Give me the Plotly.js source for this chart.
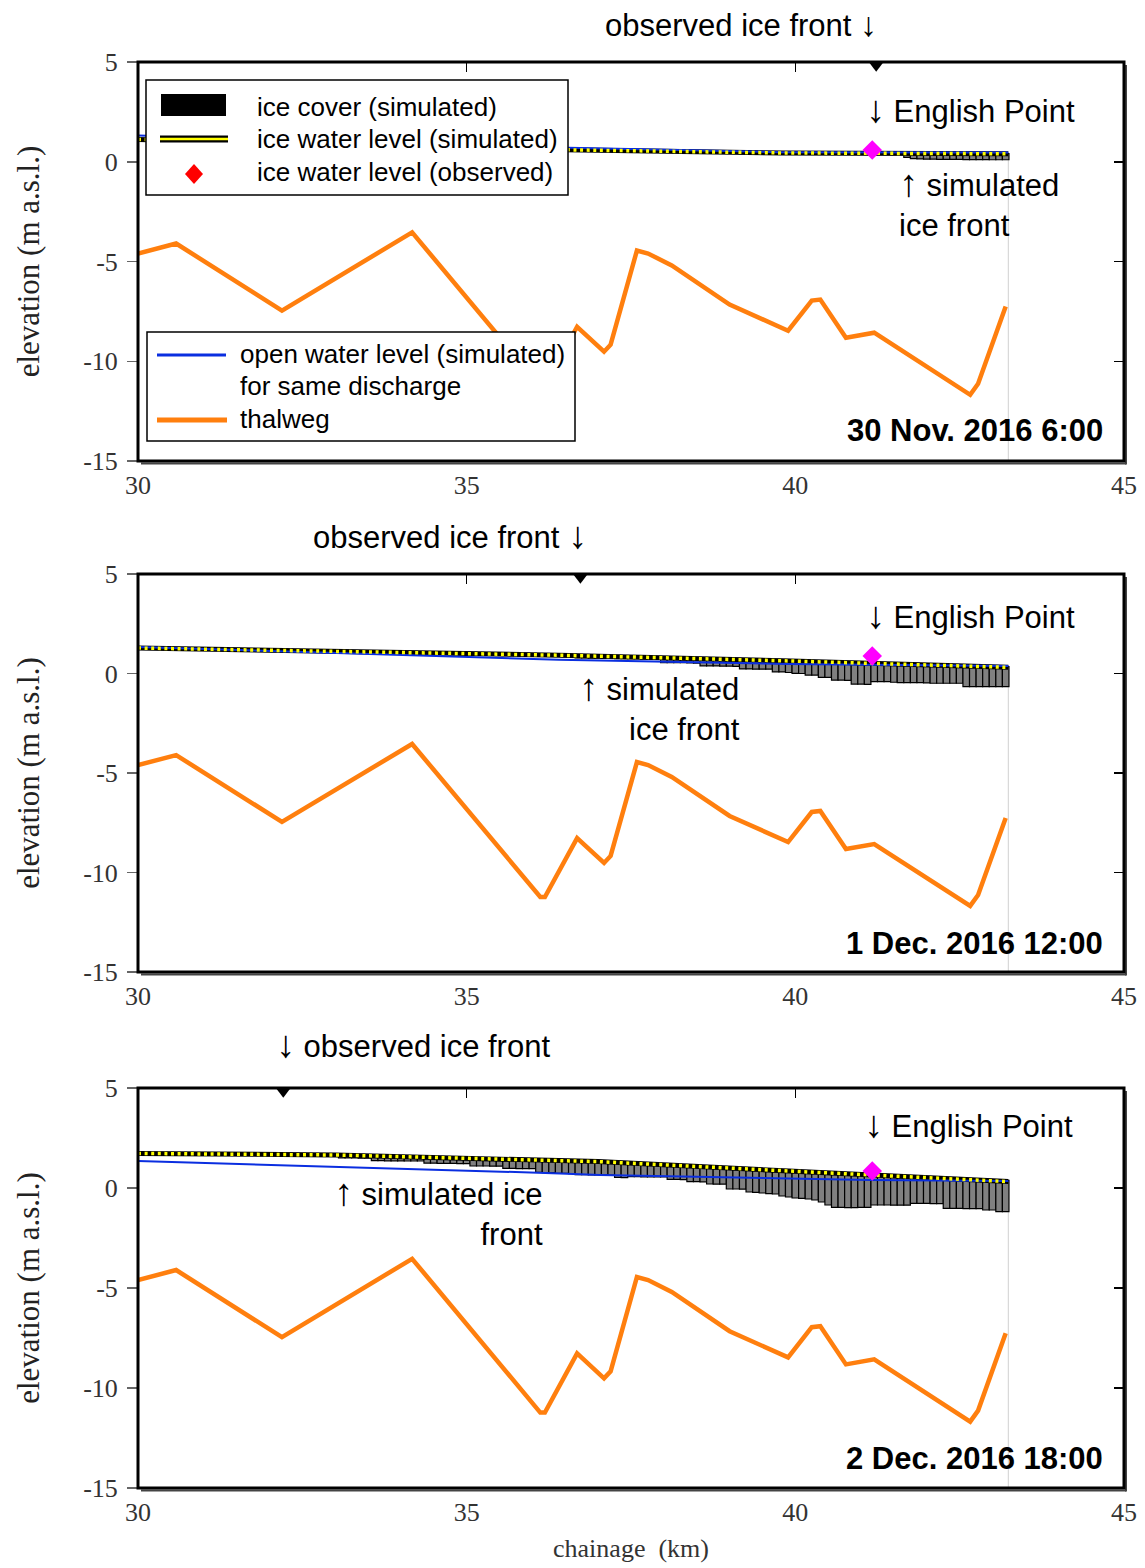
<!DOCTYPE html>
<html>
<head>
<meta charset="utf-8">
<script src="https://cdn.plot.ly/plotly-3.0.1.min.js"></script>
<style>
  html, body { margin: 0; padding: 0; background: #fff; }
  #chart { width: 1145px; height: 1568px; }
</style>
</head>
<body>
<div id="chart"></div>
<script>
// ---------------- DATA ----------------
const xTicks = [30, 35, 40, 45];
const yTicks = [5, 0, -5, -10, -15];
const xRange = [30, 45];
const yRange = [-15, 5];

const panelDates = ['30 Nov. 2016 6:00', '1 Dec. 2016 12:00', '2 Dec. 2016 18:00'];

// thalweg (same in every panel)
const thalwegKm   = [30, 30.58, 32.19, 34.17, 36.12, 36.19, 36.68, 37.09, 37.19, 37.59, 37.76, 38.12, 39.0, 39.89, 40.25, 40.38, 40.77, 41.2, 42.66, 42.78, 43.2];
const thalwegElev = [-4.60, -4.10, -7.46, -3.54, -11.23, -11.23, -8.27, -9.52, -9.17, -4.45, -4.60, -5.20, -7.16, -8.47, -6.96, -6.91, -8.82, -8.57, -11.68, -11.13, -7.26];

// open water level (simulated) for same discharge
const openKm1   = [30, 36.54, 39.77, 43.24];
const openElev1 = [1.32, 0.70, 0.48, 0.46];
const openKm2   = [30, 36.4, 39.9, 43.24];
const openElev2 = [1.33, 0.69, 0.48, 0.38];
const openKm3   = [30, 33.0, 36.42, 37.03, 39.92, 41.14, 43.24];
const openElev3 = [1.35, 1.07, 0.73, 0.65, 0.45, 0.40, 0.35];

// ice water level (simulated)
const iceLevelKm1   = [30, 33, 36.5, 39.8, 41.2, 43.24];
const iceLevelElev1 = [1.12, 0.88, 0.60, 0.44, 0.43, 0.40];
const iceLevelKm2   = [30, 33, 36.4, 39.8, 41.2, 42.2, 43.24];
const iceLevelElev2 = [1.28, 1.10, 0.92, 0.64, 0.51, 0.43, 0.31];
const iceLevelKm3   = [30, 33.0, 36.4, 37.0, 39.9, 41.1, 43.24];
const iceLevelElev3 = [1.73, 1.65, 1.37, 1.32, 0.85, 0.65, 0.32];

// ice cover (simulated): first section chainage, section spacing 0.1 km
const iceStartKm = [41.7, 36.7, 33.1];
const iceStepKm = 0.1;
const iceTop1    = [0.45, 0.45, 0.45, 0.44, 0.44, 0.44, 0.44, 0.43, 0.43, 0.43, 0.43, 0.42, 0.42, 0.42, 0.42, 0.41];
const iceBottom1 = [0.22, 0.16, 0.14, 0.13, 0.13, 0.12, 0.12, 0.12, 0.12, 0.11, 0.11, 0.11, 0.11, 0.10, 0.10, 0.10];
const iceTop2 = [0.90, 0.89, 0.88, 0.88, 0.87, 0.86, 0.85, 0.85, 0.84, 0.83, 0.82, 0.82, 0.81,
                 0.80, 0.79, 0.78, 0.78, 0.77, 0.76, 0.75, 0.74, 0.74, 0.73, 0.72, 0.71,
                 0.70, 0.70, 0.69, 0.68, 0.67, 0.66, 0.66, 0.65, 0.64, 0.63, 0.62, 0.62,
                 0.61, 0.60, 0.59, 0.58, 0.57, 0.56, 0.55, 0.54, 0.53, 0.52, 0.52, 0.51,
                 0.50, 0.49, 0.48, 0.47, 0.46, 0.46, 0.45, 0.44, 0.43, 0.42, 0.41, 0.40,
                 0.39, 0.38, 0.37, 0.36, 0.35];
const iceBottom2 = [0.78, 0.78, 0.77, 0.77, 0.76, 0.76, 0.75, 0.75, 0.74, 0.74, 0.73, 0.73, 0.72,
                    0.54, 0.54, 0.54, 0.54, 0.53, 0.52,
                    0.38, 0.38, 0.38, 0.37, 0.37, 0.36,
                    0.23, 0.23, 0.22, 0.22, 0.22,
                    0.08, 0.08, 0.05, 0.01, 0.00,
                    -0.08, -0.08,
                    -0.19, -0.19,
                    -0.33, -0.33, -0.35,
                    -0.53, -0.53, -0.55,
                    -0.41, -0.41, -0.41,
                    -0.44, -0.46, -0.46, -0.46, -0.46, -0.47,
                    -0.49, -0.49, -0.49, -0.49, -0.49,
                    -0.66, -0.66, -0.66, -0.66, -0.66, -0.66, -0.66];
const iceTop3 = [1.69, 1.68, 1.67, 1.66, 1.66, 1.65, 1.64, 1.63, 1.62, 1.61,
                 1.60, 1.60, 1.59, 1.58, 1.57, 1.56, 1.55, 1.54, 1.54, 1.53,
                 1.52, 1.51, 1.50, 1.49, 1.48, 1.48, 1.47, 1.46, 1.45, 1.44,
                 1.43, 1.42, 1.42, 1.41, 1.40, 1.39, 1.38, 1.38, 1.37, 1.36,
                 1.34, 1.33, 1.31, 1.29, 1.28, 1.26, 1.25, 1.23, 1.21, 1.20,
                 1.18, 1.17, 1.15, 1.13, 1.12, 1.10, 1.09, 1.07, 1.05, 1.04,
                 1.02, 1.01, 0.99, 0.97, 0.96, 0.94, 0.93, 0.91, 0.89, 0.88,
                 0.86, 0.84, 0.83, 0.81, 0.79, 0.78, 0.76, 0.74, 0.73, 0.71,
                 0.69, 0.68, 0.66, 0.65, 0.63, 0.62, 0.60, 0.59, 0.57, 0.56,
                 0.54, 0.53, 0.51, 0.50, 0.48, 0.47, 0.45, 0.44, 0.42, 0.41,
                 0.39, 0.38];
const iceBottom3 = [1.50, 1.50, 1.50, 1.49, 1.49,
                    1.37, 1.37, 1.36, 1.36, 1.36, 1.35, 1.35, 1.35,
                    1.24, 1.24, 1.23, 1.23, 1.23, 1.22, 1.22,
                    1.10, 1.10, 1.10, 1.09, 1.09,
                    0.98, 0.98, 0.97, 0.97, 0.97,
                    0.78, 0.77, 0.77,
                    0.73, 0.73, 0.72,
                    0.67, 0.67, 0.66, 0.66, 0.66, 0.65,
                    0.53, 0.52,
                    0.57, 0.57, 0.56, 0.56, 0.56, 0.55,
                    0.43, 0.43, 0.42,
                    0.32, 0.32, 0.31,
                    0.20, 0.19, 0.19,
                    -0.05, -0.05, -0.06,
                    -0.20, -0.22, -0.25, -0.28, -0.30,
                    -0.40, -0.45, -0.50,
                    -0.52, -0.55, -0.60,
                    -0.70, -0.85,
                    -0.97, -0.97, -0.98, -0.98, -0.97, -0.97,
                    -0.85, -0.85, -0.85, -0.86, -0.86, -0.86,
                    -0.77, -0.77, -0.77, -0.78, -0.78,
                    -1.02, -1.02, -1.02, -1.03, -1.03, -1.03,
                    -1.10, -1.10, -1.18, -1.18];

// observed ice water level at English Point, observed ice front
const englishPointKm = 41.17;
const observedLevel = [0.59, 0.88, 0.85];
const observedFrontKm = [41.23, 36.73, 32.21];
const reachEndKm = 43.24;

const openKm = [openKm1, openKm2, openKm3];
const openElev = [openElev1, openElev2, openElev3];
const iceLevelKm = [iceLevelKm1, iceLevelKm2, iceLevelKm3];
const iceLevelElev = [iceLevelElev1, iceLevelElev2, iceLevelElev3];
const iceTop = [iceTop1, iceTop2, iceTop3];
const iceBottom = [iceBottom1, iceBottom2, iceBottom3];

// ---------------- STYLE / LAYOUT ----------------
const SANS = 'Liberation Sans, Arial, sans-serif';
const SERIF = 'Liberation Serif, Times New Roman, serif';
const ORANGE = '#ff7f0e';
const BLUE = '#0a2ee0';
const arrow = (ch, size) => '<span style="font-size:' + (size || 38) + 'px">' + ch + '</span>';
const DOWN = arrow('↓'), UP = arrow('↑');

const W = 1145, H = 1568;
const ML = 138, MR = 21, MT = 62, MB = 80;
const PW = W - ML - MR, PH = H - MT - MB;
const X = px => (px - ML) / PW;
const Y = py => (H - MB - py) / PH;

const panelPix = [[62, 461], [574, 972], [1088, 1488]]; // top, bottom in px
const domains = panelPix.map(p => [Y(p[1]), Y(p[0])]);

const traces = [];
const layout = {
  width: W, height: H,
  margin: {l: ML, r: MR, t: MT, b: MB},
  paper_bgcolor: '#fff', plot_bgcolor: '#fff',
  showlegend: false,
  shapes: [], annotations: []
};

for (let i = 0; i < 3; i++) {
  const s = i === 0 ? '' : String(i + 1);
  const xa = 'x' + s, ya = 'y' + s;
  const ov = String(i + 4);

  layout['xaxis' + s] = {
    domain: [0, 1], anchor: ya, range: xRange,
    tickmode: 'array', tickvals: xTicks, ticktext: xTicks.map(String),
    ticks: '', showgrid: false, zeroline: false, showline: false,
    tickfont: {family: SERIF, size: 26, color: '#333'},
    ticklabelstandoff: 6,
    title: i === 2 ? {text: 'chainage  (km)', font: {family: SERIF, size: 26, color: '#333'}, standoff: 12} : {text: ''}
  };
  layout['yaxis' + s] = {
    domain: domains[i], anchor: xa, range: yRange,
    tickmode: 'array', tickvals: yTicks, ticktext: yTicks.map(String),
    ticks: 'outside', ticklen: 10, tickwidth: 1.5, tickcolor: '#666',
    showgrid: false, zeroline: false, showline: false,
    tickfont: {family: SERIF, size: 26, color: '#333'},
    ticklabelstandoff: 4,
    title: {text: 'elevation (m a.s.l.)', font: {family: SERIF, size: 31, color: '#222'}, standoff: 34}
  };
  // top ticks and right ticks (inside)
  layout['xaxis' + ov] = {
    overlaying: xa, anchor: ya, side: 'top', range: xRange,
    tickmode: 'array', tickvals: [35, 40], ticks: 'inside', ticklen: 10, tickwidth: 1.5, tickcolor: '#000',
    showticklabels: false, showgrid: false, zeroline: false, showline: false
  };
  layout['yaxis' + ov] = {
    overlaying: ya, anchor: xa, side: 'right', range: yRange,
    tickmode: 'array', tickvals: [0, -5, -10], ticks: 'inside', ticklen: 10, tickwidth: 1.5, tickcolor: '#000',
    showticklabels: false, showgrid: false, zeroline: false, showline: false
  };
  traces.push({type: 'scatter', x: [null], y: [null], xaxis: 'x' + ov, yaxis: 'y' + ov, hoverinfo: 'skip', showlegend: false});

  // thalweg
  traces.push({type: 'scatter', mode: 'lines', x: thalwegKm, y: thalwegElev, xaxis: xa, yaxis: ya,
    line: {color: ORANGE, width: 4.5}, name: 'thalweg'});
  // ice cover
  traces.push({type: 'bar', x0: iceStartKm[i], dx: iceStepKm, xaxis: xa, yaxis: ya,
    base: iceBottom[i], y: iceTop[i].map((t, k) => t - iceBottom[i][k]),
    width: iceStepKm, marker: {color: '#808080', line: {color: '#000', width: 1.2}},
    name: 'ice cover (simulated)'});
  // ice water level: black line
  traces.push({type: 'scatter', mode: 'lines', x: iceLevelKm[i], y: iceLevelElev[i], xaxis: xa, yaxis: ya,
    line: {color: '#000', width: 5}, name: 'ice water level (simulated)'});
  // open water level
  traces.push({type: 'scatter', mode: 'lines', x: openKm[i], y: openElev[i], xaxis: xa, yaxis: ya,
    line: {color: BLUE, width: 2}, name: 'open water level (simulated)'});
  // ice water level: yellow dots
  traces.push({type: 'scatter', mode: 'lines', x: iceLevelKm[i], y: iceLevelElev[i], xaxis: xa, yaxis: ya,
    line: {color: '#ffff00', width: 3.5, dash: '3px,3.6px'}, showlegend: false});
  // observed level at English Point
  traces.push({type: 'scatter', mode: 'markers', x: [englishPointKm], y: [observedLevel[i]], xaxis: xa, yaxis: ya,
    marker: {symbol: 'diamond', size: 15, color: '#ff00ff'}, name: 'ice water level (observed)'});
  // observed ice front marker on top axis
  traces.push({type: 'scatter', mode: 'markers', x: [observedFrontKm[i]], y: [4.8], xaxis: xa, yaxis: ya,
    marker: {symbol: 'triangle-down', size: 11.5, color: '#000'}, cliponaxis: false, showlegend: false});

  // frame with shadow
  const [pt, pb] = panelPix[i];
  layout.shapes.push({type: 'line', xref: 'paper', yref: 'paper', x0: X(141), x1: X(1126), y0: Y(pb + 2.5), y1: Y(pb + 2.5), line: {color: '#444', width: 2}});
  layout.shapes.push({type: 'line', xref: 'paper', yref: 'paper', x0: X(1126), x1: X(1126), y0: Y(pt + 3), y1: Y(pb + 3.5), line: {color: '#444', width: 2}});
  layout.shapes.push({type: 'rect', xref: 'paper', yref: 'paper', x0: 0, x1: 1, y0: domains[i][0], y1: domains[i][1], line: {color: '#000', width: 3}});
  // light grey end-of-reach line
  layout.shapes.push({type: 'line', xref: xa, yref: ya, x0: reachEndKm, x1: reachEndKm, y0: iceLevelElev[i][iceLevelElev[i].length - 1] - 0.3, y1: -15.25, line: {color: '#d0d0d0', width: 1}, layer: 'below'});

  // date label
  const dateY = [430, 943, 1458][i];
  layout.annotations.push({xref: 'paper', yref: 'paper', x: X(1105), y: Y(dateY), xanchor: 'right', yanchor: 'middle',
    text: '<b>' + panelDates[i] + '</b>', showarrow: false, font: {family: SANS, size: 31, color: '#000'}});
}

// text annotations
const A = (px, py, text, xanchor, align) => layout.annotations.push({xref: 'paper', yref: 'paper', x: X(px), y: Y(py),
  xanchor: xanchor || 'left', yanchor: 'middle', align: align || 'left', text: text, showarrow: false,
  font: {family: SANS, size: 31, color: '#000'}});
A(603, 24, 'observed ice front ' + arrow('↓', 34));
A(864, 109, DOWN + ' English Point');
A(897, 203, UP + ' simulated<br>ice front');
A(311, 535, 'observed ice front ' + DOWN);
A(864, 615, DOWN + ' English Point');
A(742, 707, UP + ' simulated<br>ice front', 'right', 'right');
A(274, 1044, DOWN + ' observed ice front');
A(862, 1124, DOWN + ' English Point');
A(545, 1211, UP + ' simulated ice<br>front', 'right', 'right');

// legends (panel 1)
const L = (px, py, text) => layout.annotations.push({xref: 'paper', yref: 'paper', x: X(px), y: Y(py),
  xanchor: 'left', yanchor: 'middle', text: text, showarrow: false, font: {family: SANS, size: 26, color: '#000'}});
layout.shapes.push({type: 'rect', xref: 'paper', yref: 'paper', x0: X(146), x1: X(568), y0: Y(195), y1: Y(80), fillcolor: '#fff', line: {color: '#000', width: 1.5}});
layout.shapes.push({type: 'rect', xref: 'paper', yref: 'paper', x0: X(161), x1: X(226), y0: Y(116), y1: Y(94), fillcolor: '#000', line: {width: 0}});
layout.shapes.push({type: 'line', xref: 'paper', yref: 'paper', x0: X(160), x1: X(228), y0: Y(139), y1: Y(139), line: {color: '#000', width: 7}});
layout.shapes.push({type: 'line', xref: 'paper', yref: 'paper', x0: X(160), x1: X(228), y0: Y(139), y1: Y(139), line: {color: '#ffff00', width: 2.5}});
layout.shapes.push({type: 'path', xref: 'paper', yref: 'paper',
  path: `M ${X(185)},${Y(174)} L ${X(194)},${Y(164)} L ${X(203)},${Y(174)} L ${X(194)},${Y(184)} Z`,
  fillcolor: '#ff0000', line: {width: 0}});
L(255, 107, 'ice cover (simulated)');
L(255, 139, 'ice water level (simulated)');
L(255, 172, 'ice water level (observed)');

layout.shapes.push({type: 'rect', xref: 'paper', yref: 'paper', x0: X(147), x1: X(575), y0: Y(441), y1: Y(332), fillcolor: '#fff', line: {color: '#000', width: 1.5}});
layout.shapes.push({type: 'line', xref: 'paper', yref: 'paper', x0: X(157), x1: X(226), y0: Y(355), y1: Y(355), line: {color: BLUE, width: 3}});
layout.shapes.push({type: 'line', xref: 'paper', yref: 'paper', x0: X(157), x1: X(227), y0: Y(420), y1: Y(420), line: {color: ORANGE, width: 5}});
L(238, 354, 'open water level (simulated)');
L(238, 386, 'for same discharge');
L(238, 419, 'thalweg');

Plotly.newPlot('chart', traces, layout, {staticPlot: true, displayModeBar: false});
</script>
</body>
</html>
